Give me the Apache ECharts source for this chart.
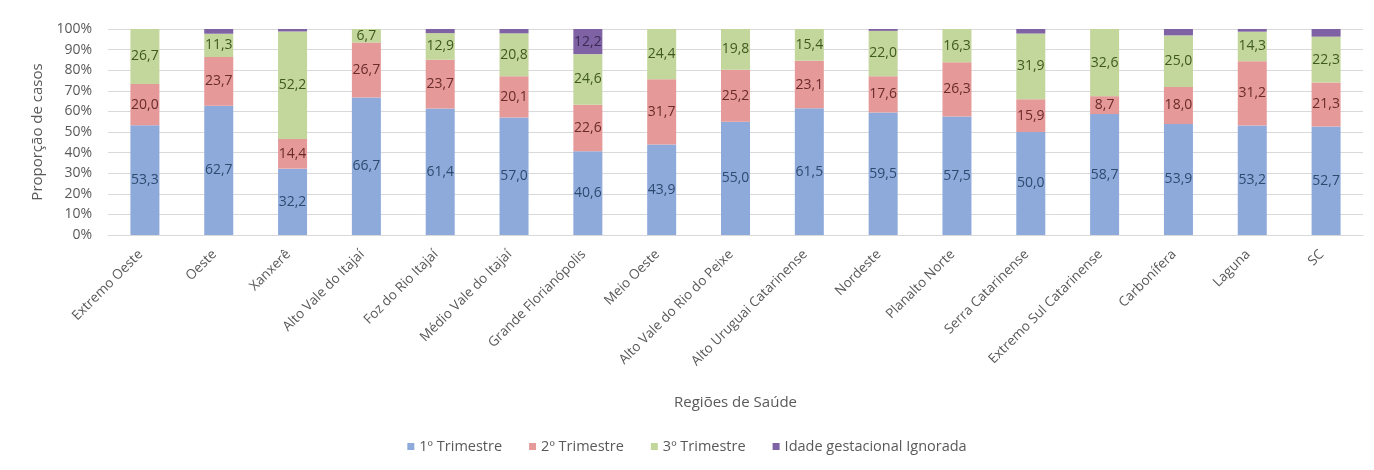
<!DOCTYPE html>
<html>
<head>
<meta charset="utf-8">
<script src="https://cdn.jsdelivr.net/npm/echarts@6/dist/echarts.min.js"></script>
<style>
  html, body { margin: 0; padding: 0; background: #fff; }
  #chart { width: 1374px; height: 470px; }
</style>
</head>
<body>
<div id="chart"></div>
<script>
// Regiões de Saúde de Santa Catarina
const regioes = [
  'Extremo Oeste', 'Oeste', 'Xanxerê', 'Alto Vale do Itajaí', 'Foz do Rio Itajaí',
  'Médio Vale do Itajaí', 'Grande Florianópolis', 'Meio Oeste', 'Alto Vale do Rio do Peixe',
  'Alto Uruguai Catarinense', 'Nordeste', 'Planalto Norte', 'Serra Catarinense',
  'Extremo Sul Catarinense', 'Carbonífera', 'Laguna', 'SC'
];

// Proporção de casos (%) por trimestre gestacional
const trimestre1 = [53.3, 62.7, 32.2, 66.7, 61.4, 57.0, 40.6, 43.9, 55.0, 61.5, 59.5, 57.5, 50.0, 58.7, 53.9, 53.2, 52.7];
const trimestre2 = [20.0, 23.7, 14.4, 26.7, 23.7, 20.1, 22.6, 31.7, 25.2, 23.1, 17.6, 26.3, 15.9, 8.7, 18.0, 31.2, 21.3];
const trimestre3 = [26.7, 11.3, 52.2, 6.7, 12.9, 20.8, 24.6, 24.4, 19.8, 15.4, 22.0, 16.3, 31.9, 32.6, 25.0, 14.3, 22.3];
const ignorada   = [0.0, 2.3, 1.2, 0.0, 2.0, 2.1, 12.2, 0.0, 0.0, 0.0, 0.9, 0.0, 2.2, 0.0, 3.1, 1.3, 3.7];

const yTicks = [0, 10, 20, 30, 40, 50, 60, 70, 80, 90, 100];

const FONT = '"Open Sans", "Noto Sans", sans-serif';
const GREY = '#595959';

function serie(name, data, color, labelColor, minLabel) {
  return {
    name: name,
    type: 'bar',
    stack: 'total',
    barWidth: 29,
    data: data,
    itemStyle: { color: color },
    label: {
      show: true,
      position: 'inside',
      color: labelColor,
      fontFamily: FONT,
      fontSize: 14,
      formatter: p => (p.value >= minLabel ? p.value.toFixed(1).replace('.', ',') : '')
    },
    emphasis: { disabled: true }
  };
}

const chart = echarts.init(document.getElementById('chart'));
chart.setOption({
  animation: false,
  backgroundColor: '#ffffff',
  grid: { left: 108, right: 11, top: 29, bottom: 235, containLabel: false },
  xAxis: {
    type: 'category',
    data: regioes,
    name: 'Regiões de Saúde',
    nameLocation: 'middle',
    nameGap: 160,
    nameTextStyle: { color: GREY, fontFamily: FONT, fontSize: 15 },
    axisTick: { show: false },
    axisLine: { lineStyle: { color: '#d9d9d9' } },
    axisLabel: {
      rotate: 45,
      interval: 0,
      margin: 13,
      padding: [0, 6, 0, 0],
      color: GREY,
      fontFamily: FONT,
      fontSize: 13.5
    }
  },
  yAxis: {
    type: 'value',
    min: yTicks[0],
    max: yTicks[yTicks.length - 1],
    interval: 10,
    name: 'Proporção de casos',
    nameLocation: 'middle',
    nameGap: 53,
    nameTextStyle: { color: GREY, fontFamily: FONT, fontSize: 15 },
    axisLine: { show: false },
    axisTick: { show: false },
    axisLabel: {
      formatter: '{value}%',
      color: GREY,
      fontFamily: FONT,
      fontSize: 14,
      margin: 16
    },
    splitLine: { lineStyle: { color: '#d9d9d9', width: 1 } }
  },
  legend: {
    bottom: 11,
    left: 'center',
    itemWidth: 7,
    itemHeight: 7,
    itemGap: 27,
    icon: 'rect',
    textStyle: { color: GREY, fontFamily: FONT, fontSize: 14.5 },
    data: ['1º Trimestre', '2º Trimestre', '3º Trimestre', 'Idade gestacional Ignorada']
  },
  series: [
    serie('1º Trimestre', trimestre1, '#8eaadb', '#2e4a6f', 0),
    serie('2º Trimestre', trimestre2, '#e59a99', '#6b2b2b', 0),
    serie('3º Trimestre', trimestre3, '#c3d69b', '#3f5a1e', 0),
    serie('Idade gestacional Ignorada', ignorada, '#7e62a4', '#3a2b55', 5)
  ]
});
</script>
</body>
</html>
